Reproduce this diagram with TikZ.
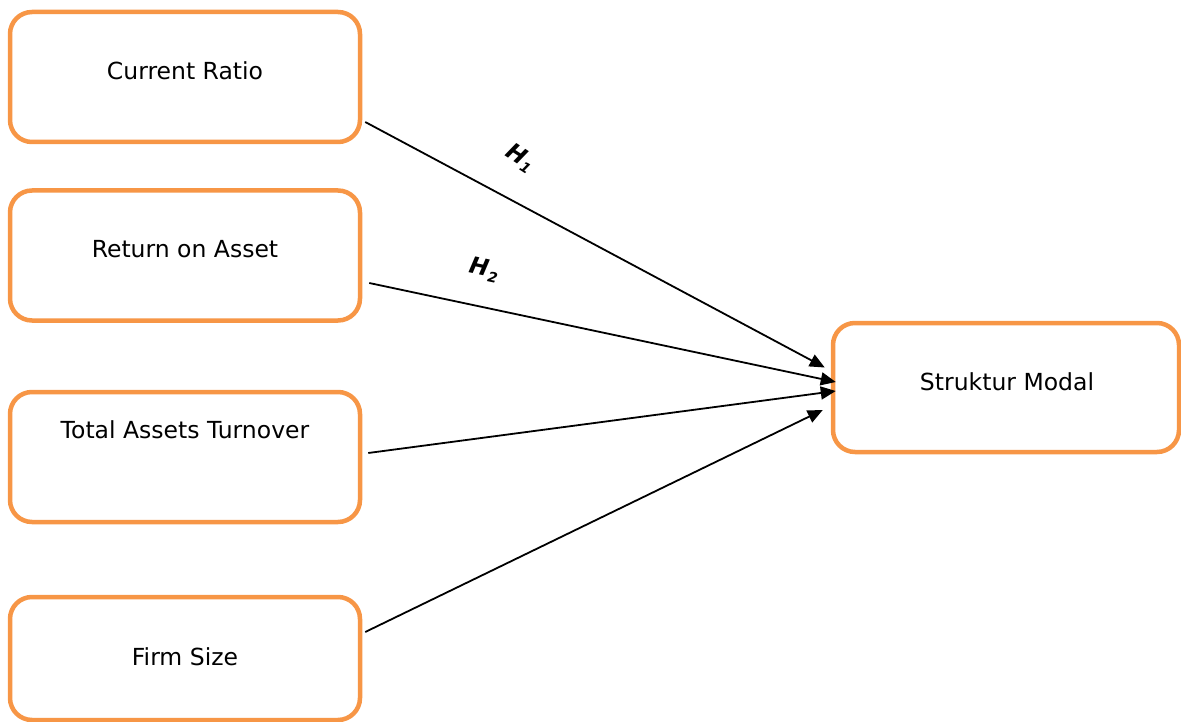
\documentclass[tikz,border=0pt]{standalone}
\usepackage{fontspec}
\setmainfont{DejaVu Sans}
\usetikzlibrary{arrows.meta}
\definecolor{boxorange}{HTML}{F79646}
\begin{document}
\begin{tikzpicture}[x=1pt,y=-1pt,
  varbox/.style={draw=boxorange,line width=4.5pt,rounded corners=22pt,fill=white,
    minimum width=350pt,minimum height=130pt,inner sep=0pt},
  boxtext/.style={anchor=base,font=\fontsize{23.5}{28}\selectfont,inner sep=0pt},
  hyp/.style={font=\fontsize{23}{26}\selectfont\bfseries\itshape,inner sep=0pt},
  link/.style={line width=1.8pt,-{Triangle[length=15pt,width=13pt]}}]
\useasboundingbox (0,0) rectangle (1181,722);
\clip (0,0) rectangle (1181,722);
\node[varbox] (cr) at (185,77) {};
\node[varbox] (roa) at (185,255.5) {};
\node[varbox] (tat) at (185,457) {};
\node[varbox,minimum height=123pt] (fs) at (185,658.5) {};
\node[varbox,minimum width=346pt,minimum height=129pt] (sm) at (1006,387.5) {};
\node[boxtext] (crt) at (185,80) {Current Ratio};
\node[boxtext] (roat) at (185,258) {Return on Asset};
\node[boxtext] (tatt) at (185,438) {Total Assets Turnover};
\node[boxtext] (fst) at (185,665) {Firm Size};
\node[boxtext] (smt) at (1007,390) {Struktur Modal};
\draw[link] ([xshift=3pt,yshift=-45pt]cr.east) -- ([xshift=-6pt,yshift=20pt]sm.west);
\draw[link] ([xshift=7pt,yshift=-27.5pt]roa.east) -- ([xshift=5pt,yshift=5.5pt]sm.west);
\draw[link] ([xshift=6pt,yshift=4pt]tat.east) -- ([xshift=5pt,yshift=-3.5pt]sm.west);
\draw[link] ([xshift=3pt,yshift=26.5pt]fs.east) -- ([xshift=-8pt,yshift=-22.5pt]sm.west);
\node[hyp,rotate=-33] (h1) at (520,158) {H\kern1pt\raisebox{-0.35ex}{\fontsize{14}{16}\selectfont 1}};
\node[hyp,rotate=-12] (h2) at (484,270) {H\kern1pt\raisebox{-0.35ex}{\fontsize{14}{16}\selectfont 2}};
\end{tikzpicture}
\end{document}
